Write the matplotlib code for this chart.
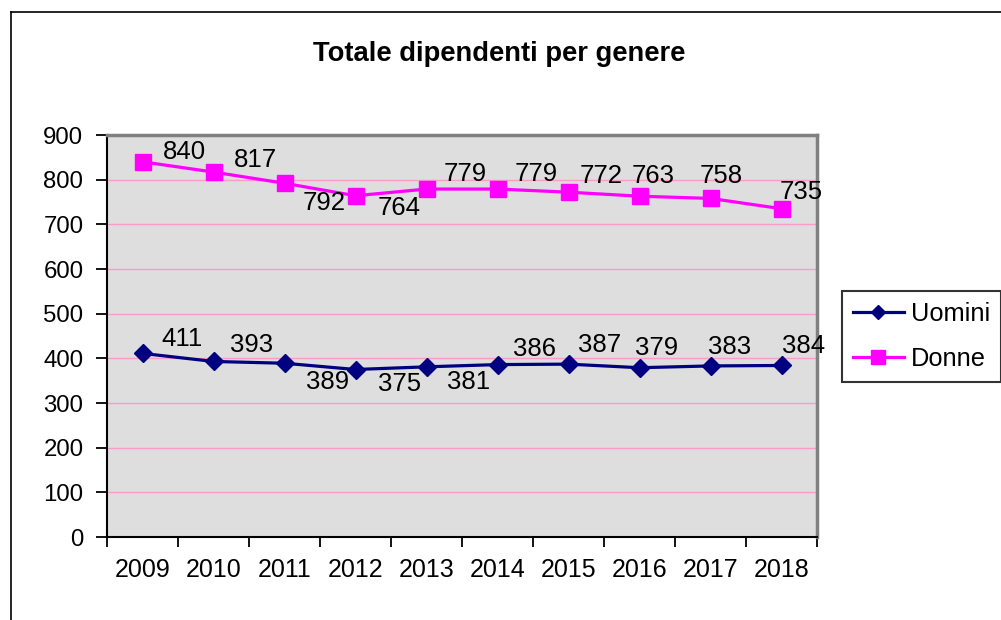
import matplotlib
matplotlib.use("Agg")
import matplotlib.pyplot as plt
from matplotlib.lines import Line2D

# ---- data ----
years = ["2009", "2010", "2011", "2012", "2013", "2014", "2015", "2016", "2017", "2018"]
uomini = [411, 393, 389, 375, 381, 386, 387, 379, 383, 384]
donne = [840, 817, 792, 764, 779, 779, 772, 763, 758, 735]
yticks = [0, 100, 200, 300, 400, 500, 600, 700, 800, 900]

# label offsets (pixels, label digit-centre relative to marker; +dy = down)
donne_dx = [42, 42, 40, 44, 38.5, 39, 33, 13.5, 11, 20]
donne_dy = [-12, -14, 18, 10, -17, -17, -18, -22, -25, -19]
uomini_dx = [40, 38.5, 43.5, 43.7, 41.8, 37.5, 31.5, 17, 19.5, 22]
uomini_dy = [-17, -19, 17, 12, 13, -18, -21, -22, -21, -21.5]

W, H = 1001, 620
DPI = 100
PX = 72.0 / DPI  # points per pixel

plt.rcParams['font.family'] = ['Liberation Sans', 'DejaVu Sans']

fig = plt.figure(figsize=(W / DPI, H / DPI), dpi=DPI)
fig.patch.set_facecolor('white')

# axes placement (pixels)
L, R, T, B = 107, 817, 135, 537
ax = fig.add_axes([L / W, 1 - B / H, (R - L) / W, (B - T) / H])
ax.set_facecolor('#DEDEDE')

x = list(range(len(years)))
navy = '#000080'
mag = '#FF00FF'

ax.plot(x, uomini, color=navy, lw=2.3, marker='D', ms=9, mfc=navy, mec=navy,
        label='Uomini', zorder=4, clip_on=False)
ax.plot(x, donne, color=mag, lw=2.3, marker='s', ms=11, mfc=mag, mec=mag,
        label='Donne', zorder=4, clip_on=False)

ax.set_xlim(-0.5, len(years) - 0.5)
ax.set_ylim(0, 900)
ax.set_yticks(yticks)
ax.set_yticklabels([str(v) for v in yticks])

# x: major ticks at category boundaries, labels on minor ticks at centres
ax.set_xticks([i - 0.5 for i in range(len(years) + 1)])
ax.set_xticklabels([])
ax.set_xticks(x, minor=True)
ax.set_xticklabels(years, minor=True)
ax.tick_params(axis='x', which='major', length=7, width=1.3, direction='out', color='black')
ax.tick_params(axis='x', which='minor', length=0, pad=15, labelsize=18)
ax.tick_params(axis='y', which='major', length=8, width=1.3, direction='out', pad=9, labelsize=17.3)

# gridlines
for v in yticks[1:-1]:
    ax.axhline(v, color='#FF99CC', lw=1.0, zorder=1)

for s in ['left', 'bottom']:
    ax.spines[s].set_color('black')
    ax.spines[s].set_linewidth(1.5)
for s in ['top', 'right']:
    ax.spines[s].set_color('#808080')
    ax.spines[s].set_linewidth(2.5)

# data labels
FS = 18.5
base = 0.358 * FS / PX  # px from digit centre to baseline
for i, v in enumerate(donne):
    ax.annotate(str(v), xy=(i, v), xytext=(donne_dx[i] * PX, -(donne_dy[i] + base) * PX),
                textcoords='offset points', ha='center', va='baseline', fontsize=FS,
                color='black', zorder=6, annotation_clip=False)
for i, v in enumerate(uomini):
    ax.annotate(str(v), xy=(i, v), xytext=(uomini_dx[i] * PX, -(uomini_dy[i] + base) * PX),
                textcoords='offset points', ha='center', va='baseline', fontsize=FS,
                color='black', zorder=6, annotation_clip=False)

# title
fig.text(499 / W, 1 - 54 / H, 'Totale dipendenti per genere', ha='center', va='center',
         fontsize=19.7, fontweight='bold', color='black')

# legend
handles = [
    Line2D([], [], color=navy, lw=2.3, marker='D', ms=7, mfc=navy, mec=navy),
    Line2D([], [], color=mag, lw=2.3, marker='s', ms=10.5, mfc=mag, mec=mag),
]
leg = fig.legend(handles, ['Uomini', 'Donne'], loc='upper left',
                 bbox_to_anchor=(842 / W, 1 - 291 / H), borderaxespad=0,
                 fontsize=18.3, frameon=True, fancybox=False, handlelength=2.0,
                 handletextpad=0.3, borderpad=0.42, labelspacing=0.85)
leg.get_frame().set_edgecolor('black')
leg.get_frame().set_linewidth(1.5)
leg.get_frame().set_facecolor('white')

# outer chart border (clipped at right/bottom in the reference)
fig.add_artist(Line2D([10.5 / W, 1.0], [1 - 11.5 / H, 1 - 11.5 / H], color='black', lw=1.2,
                      transform=fig.transFigure))
fig.add_artist(Line2D([10.5 / W, 10.5 / W], [1 - 11.5 / H, 0], color='black', lw=1.2,
                      transform=fig.transFigure))

fig.savefig('out.png', dpi=DPI)
